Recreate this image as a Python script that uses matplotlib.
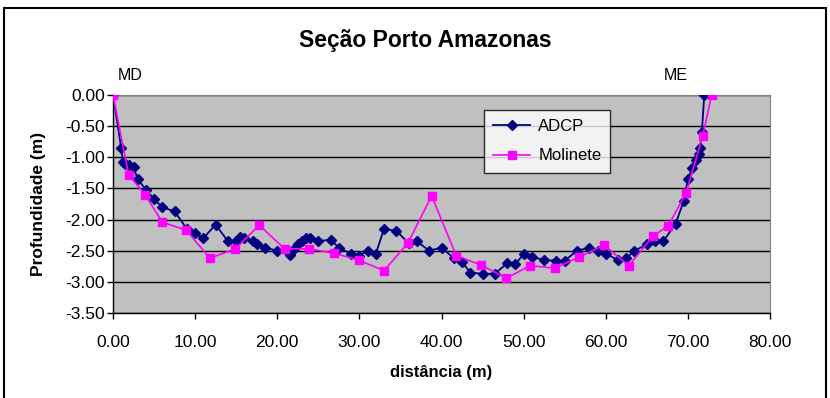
import matplotlib.pyplot as plt
from matplotlib.patches import Rectangle
from matplotlib.ticker import FormatStrFormatter, MultipleLocator

plt.rcParams['font.family'] = ['Liberation Sans', 'DejaVu Sans']

# ADCP profile
adcp_x = [0, 1.0, 1.2, 1.5, 2.0, 2.5, 3.0, 4.0, 5.0, 6.0, 7.5, 9.0, 10.0, 11.0, 12.5,
          14.0, 15.0, 15.5, 16.0, 17.0, 17.5, 18.5, 20.0, 21.5, 22.0, 22.5, 23.0, 23.5,
          24.0, 25.0, 26.5, 27.5, 29.0, 30.0, 31.0, 32.0, 33.0, 34.5, 36.0, 37.0, 38.5,
          40.0, 41.5, 42.5, 43.5, 45.0, 46.5, 48.0, 49.0, 50.0, 51.0, 52.5, 54.0, 55.0,
          56.5, 58.0, 59.0, 60.0, 61.5, 62.5, 63.5, 65.0, 66.0, 67.0, 68.5, 69.5, 70.0,
          70.5, 71.0, 71.3, 71.5, 71.7, 72.0]
adcp_y = [0, -0.85, -1.07, -1.10, -1.12, -1.16, -1.35, -1.52, -1.67, -1.80, -1.87, -2.15,
          -2.22, -2.30, -2.08, -2.35, -2.34, -2.28, -2.30, -2.35, -2.40, -2.45, -2.50,
          -2.57, -2.48, -2.40, -2.35, -2.30, -2.30, -2.35, -2.32, -2.45, -2.55, -2.58,
          -2.50, -2.55, -2.15, -2.18, -2.38, -2.35, -2.50, -2.45, -2.62, -2.68, -2.85,
          -2.87, -2.87, -2.70, -2.72, -2.55, -2.60, -2.65, -2.66, -2.66, -2.50, -2.45,
          -2.50, -2.55, -2.65, -2.62, -2.50, -2.40, -2.35, -2.35, -2.07, -1.70, -1.35,
          -1.18, -1.05, -0.95, -0.85, -0.60, 0]

# current meter (molinete) profile
mol_x = [0, 1.9, 3.9, 6.0, 8.9, 11.8, 14.9, 17.8, 20.9, 23.9, 26.9, 29.9, 33.0, 35.9,
         38.8, 41.8, 44.8, 47.9, 50.8, 53.8, 56.8, 59.8, 62.8, 65.8, 67.6, 69.8, 71.8, 72.9]
mol_y = [0, -1.28, -1.60, -2.04, -2.17, -2.62, -2.47, -2.09, -2.47, -2.47, -2.54, -2.65,
         -2.82, -2.38, -1.62, -2.58, -2.73, -2.94, -2.74, -2.78, -2.60, -2.41, -2.74,
         -2.26, -2.10, -1.57, -0.66, 0]

fig = plt.figure(figsize=(8.3, 3.98), dpi=100)
ax = fig.add_axes([113/830, 1-313/398, (770-113)/830, (313-95)/398])
ax.set_facecolor('#C0C0C0')

ax.plot(adcp_x, adcp_y, color='#000080', marker='D', markersize=5.5, lw=1.3, label='ADCP', zorder=3)
ax.plot(mol_x, mol_y, color='#FF00FF', marker='s', markersize=6, lw=1.2, label='Molinete', zorder=4)

ax.set_xlim(0, 80)
ax.set_ylim(-3.5, 0)
ax.xaxis.set_major_locator(MultipleLocator(10))
ax.yaxis.set_major_locator(MultipleLocator(0.5))
ax.xaxis.set_major_formatter(FormatStrFormatter('%.2f'))
ax.yaxis.set_major_formatter(FormatStrFormatter('%.2f'))
ax.grid(axis='y', color='black', lw=1, zorder=1)
ax.set_axisbelow(True)
ax.tick_params(direction='out', length=4, width=1, labelsize=12.5)
ax.tick_params(axis='x', pad=12)
ax.tick_params(axis='y', pad=2)

for s in ['top', 'right']:
    ax.spines[s].set_color('#808080')
for s in ['left', 'bottom']:
    ax.spines[s].set_color('black')
    ax.spines[s].set_linewidth(1)

ax.set_xlabel('distância (m)', fontsize=12, fontweight='bold')
ax.set_ylabel('Profundidade (m)', fontsize=12.5, fontweight='bold')
ax.xaxis.set_label_coords(0.5, (313-373)/218)
ax.yaxis.set_label_coords((38-113)/657, 0.5)
ax.xaxis.label.set_va('center')
ax.yaxis.label.set_va('center')

fig.text(425/830, 1-40/398, 'Seção Porto Amazonas', ha='center', va='center',
         fontsize=16.5, fontweight='bold')
fig.text(130/830, 1-76/398, 'MD', ha='center', va='center', fontsize=11.5)
fig.text(676/830, 1-76/398, 'ME', ha='center', va='center', fontsize=11.5)

leg = ax.legend(loc='upper left', bbox_to_anchor=((484-113)/657, 1-(110-95)/218),
                frameon=True, fancybox=False, edgecolor='black', fontsize=12,
                borderaxespad=0, handlelength=2.2, labelspacing=0.85, borderpad=0.55,
                handletextpad=0.5)
leg.get_frame().set_linewidth(1)

fig.patches.append(Rectangle((4/830, -0.1), 822/830, 1.1-8/398, transform=fig.transFigure,
                             fill=False, edgecolor='black', lw=1.5))

fig.savefig('out.png', dpi=100)
